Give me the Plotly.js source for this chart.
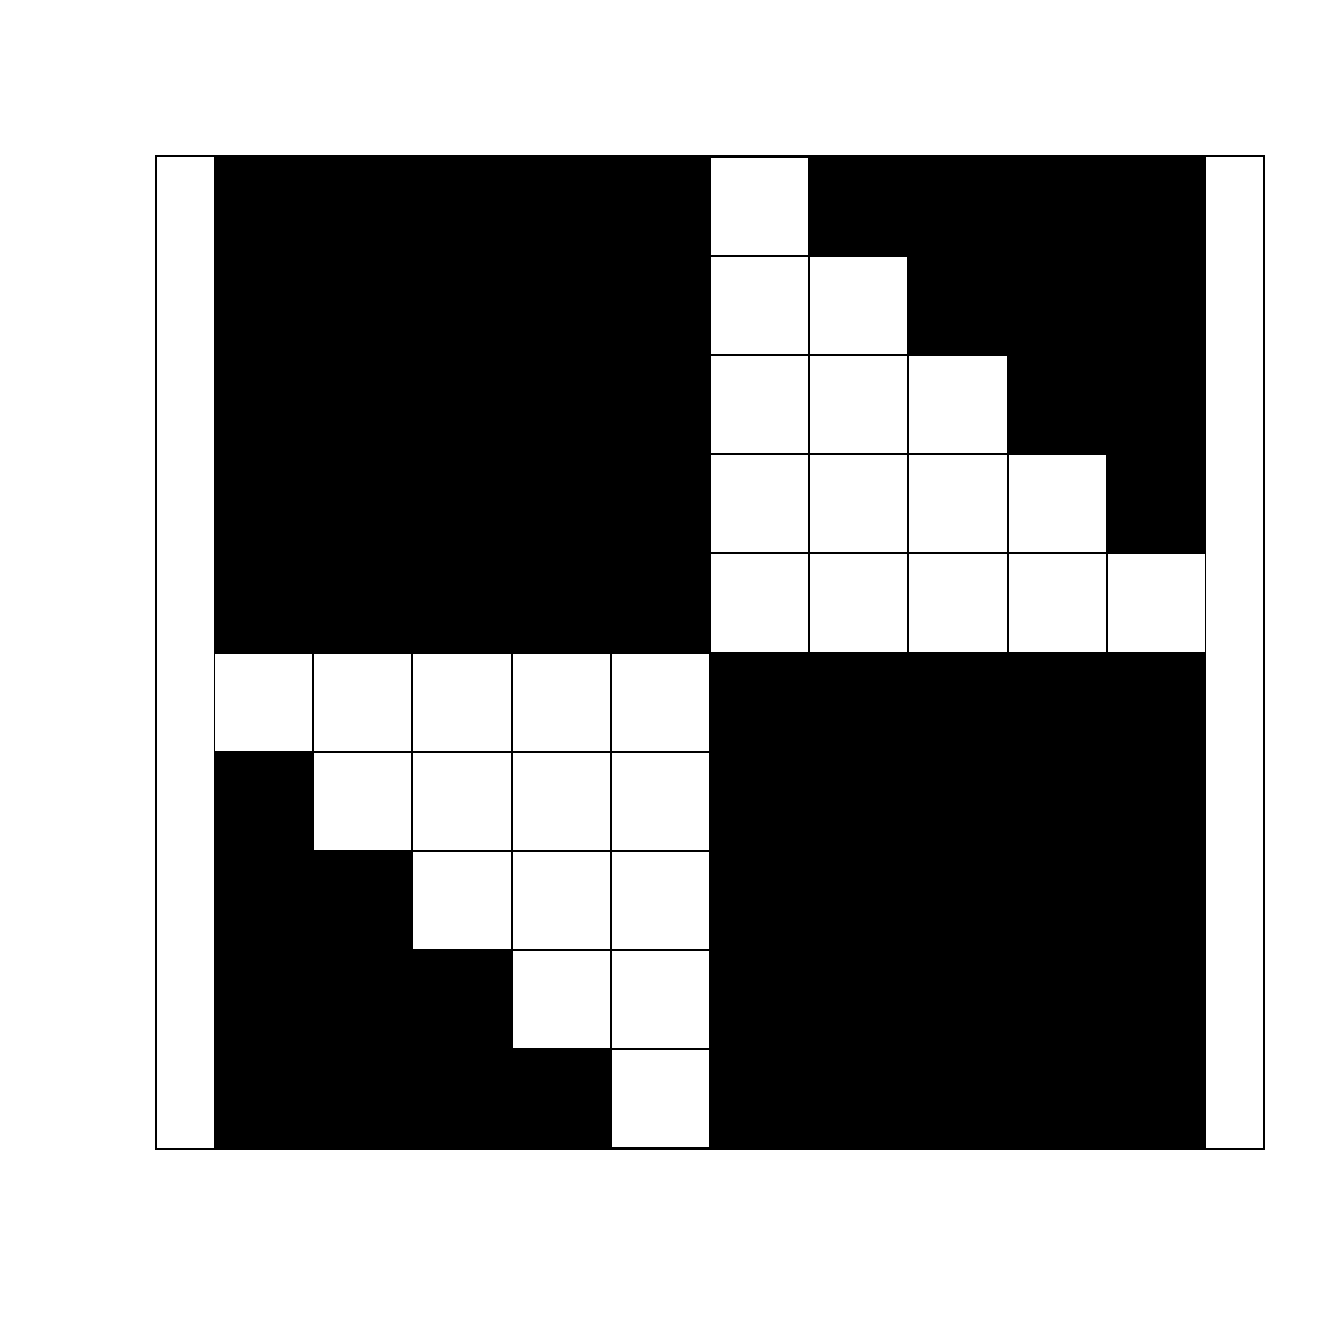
<!DOCTYPE html>
<html>
<head>
<meta charset="utf-8">
<script src="https://cdn.plot.ly/plotly-3.0.1.min.js"></script>
<style>html,body{margin:0;padding:0;background:#fff;}#chart{width:1344px;height:1344px;}</style>
</head>
<body>
<div id="chart"></div>
<script>
// Column positions (left to right) and row positions (top to bottom)
var colPositions = [1, 2, 3, 4, 5, 6, 7, 8, 9, 10];
var rowPositions = [1, 2, 3, 4, 5, 6, 7, 8, 9, 10];
// Cell values: 1 = black, 0 = white; one array per row, top row first
var row1  = [1, 1, 1, 1, 1, 0, 1, 1, 1, 1];
var row2  = [1, 1, 1, 1, 1, 0, 0, 1, 1, 1];
var row3  = [1, 1, 1, 1, 1, 0, 0, 0, 1, 1];
var row4  = [1, 1, 1, 1, 1, 0, 0, 0, 0, 1];
var row5  = [1, 1, 1, 1, 1, 0, 0, 0, 0, 0];
var row6  = [0, 0, 0, 0, 0, 1, 1, 1, 1, 1];
var row7  = [1, 0, 0, 0, 0, 1, 1, 1, 1, 1];
var row8  = [1, 1, 0, 0, 0, 1, 1, 1, 1, 1];
var row9  = [1, 1, 1, 0, 0, 1, 1, 1, 1, 1];
var row10 = [1, 1, 1, 1, 0, 1, 1, 1, 1, 1];
var cellValues = [row1, row2, row3, row4, row5, row6, row7, row8, row9, row10];

// Underlay: every cell black, so the gaps in the top layer show as grid lines
var underlay = cellValues.map(function (r) { return r.map(function () { return 1; }); });

var traces = [
  {
    type: 'heatmap', x: colPositions, y: rowPositions, z: underlay,
    colorscale: [[0, '#000000'], [1, '#000000']], zmin: 0, zmax: 1,
    showscale: false, hoverinfo: 'skip'
  },
  {
    type: 'heatmap', x: colPositions, y: rowPositions, z: cellValues,
    colorscale: [[0, '#ffffff'], [1, '#000000']], zmin: 0, zmax: 1,
    xgap: 2, ygap: 2, showscale: false
  }
];

var layout = {
  width: 1344, height: 1344,
  margin: {l: 157, r: 81, t: 157, b: 196, pad: 0},
  paper_bgcolor: '#ffffff', plot_bgcolor: '#ffffff',
  showlegend: false,
  xaxis: {
    range: [-0.0746, 11.0746], showgrid: false, zeroline: false,
    showticklabels: false, ticks: '', showline: true, mirror: true,
    linecolor: '#000000', linewidth: 2
  },
  yaxis: {
    range: [10.5, 0.5], showgrid: false, zeroline: false,
    showticklabels: false, ticks: '', showline: true, mirror: true,
    linecolor: '#000000', linewidth: 2
  }
};

Plotly.newPlot('chart', traces, layout, {staticPlot: true, displayModeBar: false});
</script>
</body>
</html>
